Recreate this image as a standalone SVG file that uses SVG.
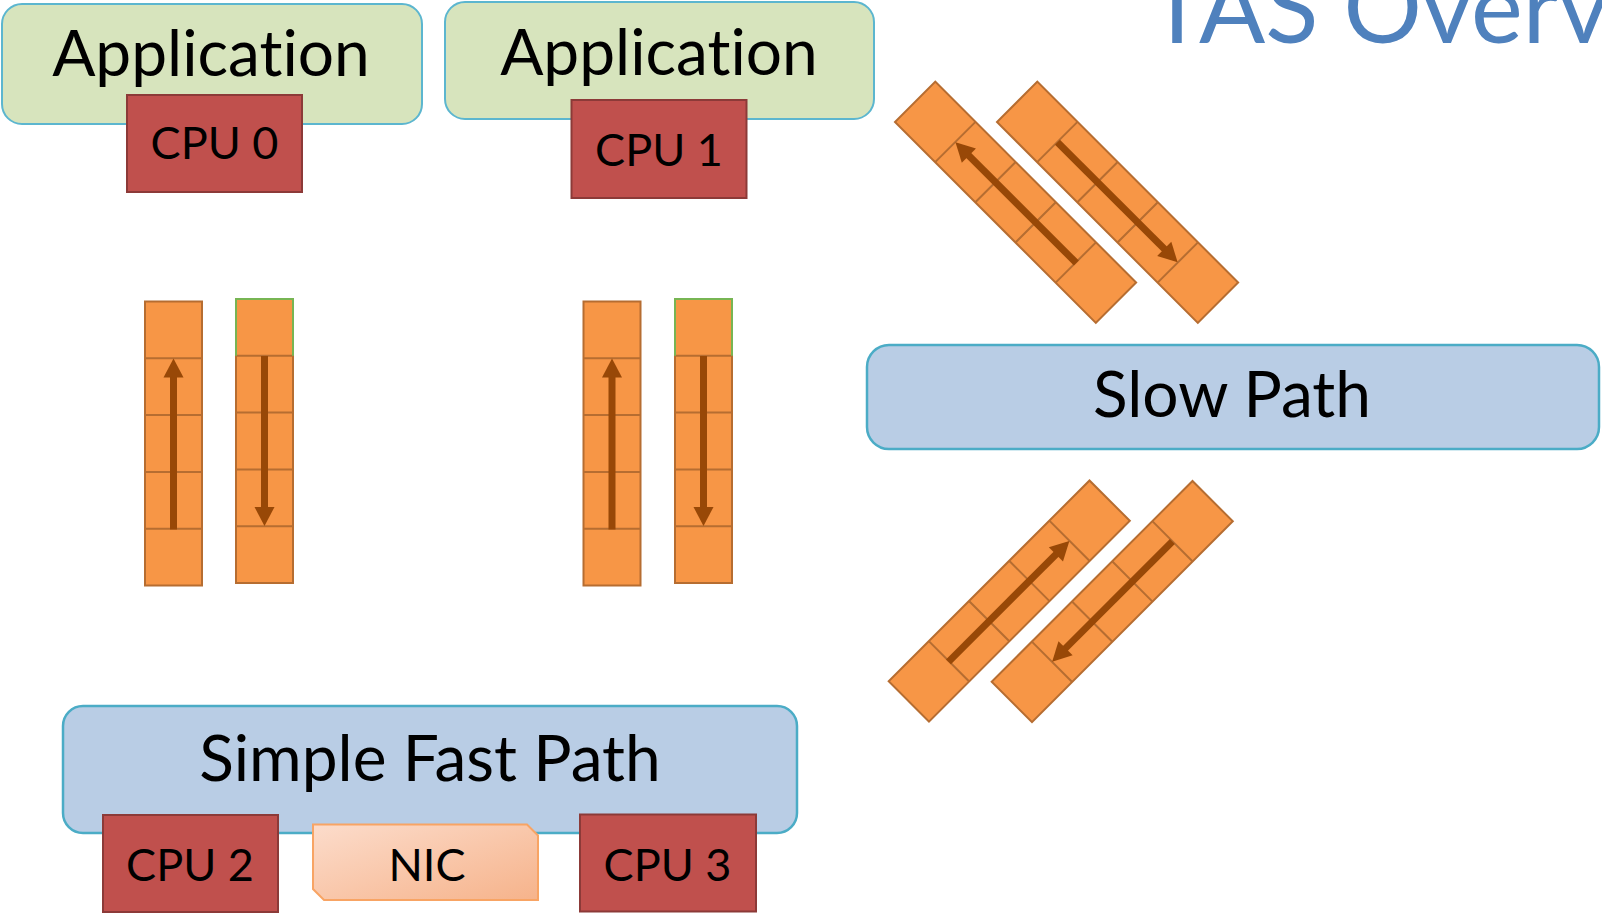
<svg xmlns="http://www.w3.org/2000/svg" xmlns:xlink="http://www.w3.org/1999/xlink" width="1602" height="915" viewBox="0 0 1602 915">
  <style>
    .app { fill: #d7e4bd; stroke: #5cb6cf; stroke-width: 2; }
    .cpu { fill: #c0504d; stroke: #8c3a38; stroke-width: 2; }
    .path { fill: #b9cde5; stroke: #4bacc6; stroke-width: 2.5; }
    .cell { fill: #f79646; stroke: #b66d31; stroke-width: 2; }
    .div { stroke: #b66d31; stroke-width: 2; }
    .edge { fill: none; stroke: #77b553; stroke-width: 2; }
    .arrow { fill: #984807; }
    text { font-variant-ligatures: none; font-feature-settings: "liga" 0, "dlig" 0; }
    .lbl { font-family: Lato, "Liberation Sans", sans-serif; fill: #000; text-anchor: middle; }
    .big { font-size: 64px; }
    .small { font-size: 45px; }
    .title { font-family: Lato, "Liberation Sans", sans-serif; font-weight: 400; font-size: 98px; fill: #4f81bd; }
  </style>
  <defs>
    <!-- a five-slot queue, 57 wide and 284 long, drawn upright -->
    <g id="queue">
      <rect class="cell" x="0" y="0" width="57" height="284"/>
      <path class="div" d="M0 56.8H57M0 113.6H57M0 170.4H57M0 227.2H57"/>
    </g>
    <!-- direction of travel along a queue -->
    <g id="arrowUp">
      <rect class="arrow" x="25" y="74" width="7" height="154"/>
      <polygon class="arrow" points="18.5,76 38.5,76 28.5,57"/>
    </g>
    <g id="arrowDown">
      <rect class="arrow" x="25" y="57" width="7" height="153"/>
      <polygon class="arrow" points="18.5,208 38.5,208 28.5,227"/>
    </g>
    <linearGradient id="nicFill" x1="0" y1="0" x2="1" y2="1">
      <stop offset="0" stop-color="#fcdccb"/>
      <stop offset="1" stop-color="#f6b38b"/>
    </linearGradient>
  </defs>

  <text class="title" x="1148" y="43">TAS Overv</text>

  <!-- applications -->
  <g id="app0">
    <rect class="app" x="2" y="4" width="420" height="120" rx="20"/>
    <text class="lbl big" x="211" y="76">Application</text>
  </g>
  <g id="cpu0">
    <rect class="cpu" x="127" y="95" width="175" height="97"/>
    <text class="lbl small" x="214.5" y="159">CPU 0</text>
  </g>
  <g id="app1">
    <rect class="app" x="445" y="2" width="429" height="117" rx="20"/>
    <text class="lbl big" x="659" y="75">Application</text>
  </g>
  <g id="cpu1">
    <rect class="cpu" x="571.5" y="100" width="175" height="98"/>
    <text class="lbl small" x="659" y="166">CPU 1</text>
  </g>

  <!-- slow path -->
  <g id="slowpath">
    <rect class="path" x="867" y="345" width="732" height="104" rx="22"/>
    <text class="lbl big" x="1232" y="417">Slow Path</text>
  </g>

  <!-- fast path with its cores and the NIC -->
  <g id="fastpath">
    <rect class="path" x="63" y="706" width="734" height="127" rx="20"/>
    <text class="lbl big" x="430" y="781">Simple Fast Path</text>
  </g>
  <g id="cpu2">
    <rect class="cpu" x="103" y="815" width="175" height="97"/>
    <text class="lbl small" x="190" y="881">CPU 2</text>
  </g>
  <g id="nic">
    <path d="M313 824.5H527L538 835.5V900H324L313 889Z" fill="url(#nicFill)" stroke="#f8a464" stroke-width="2"/>
    <text class="lbl small" x="427" y="881">NIC</text>
  </g>
  <g id="cpu3">
    <rect class="cpu" x="580" y="814.5" width="176" height="97"/>
    <text class="lbl small" x="667.5" y="881">CPU 3</text>
  </g>

  <!-- queues between applications and the fast path -->
  <g id="q0tx" transform="translate(145,301.5)"><use href="#queue"/></g>
  <g id="q0rx" transform="translate(236,299)"><use href="#queue"/><path class="edge" d="M0 56.8V0H57V56.8"/></g>
  <g id="q1tx" transform="translate(583.5,301.5)"><use href="#queue"/></g>
  <g id="q1rx" transform="translate(675,299)"><use href="#queue"/><path class="edge" d="M0 56.8V0H57V56.8"/></g>

  <!-- queues between applications and the slow path -->
  <g id="qs0" transform="translate(895,122) rotate(-45)"><use href="#queue"/></g>
  <g id="qs1" transform="translate(997,122) rotate(-45)"><use href="#queue"/></g>

  <!-- queues between the slow path and the fast path -->
  <g id="qf0" transform="translate(1089.5,480.5) rotate(45)"><use href="#queue"/></g>
  <g id="qf1" transform="translate(1192.5,481) rotate(45)"><use href="#queue"/></g>

  <g id="connectors">
    <use href="#arrowUp" transform="translate(145,301.5)"/>
    <use href="#arrowDown" transform="translate(236,299)"/>
    <use href="#arrowUp" transform="translate(583.5,301.5)"/>
    <use href="#arrowDown" transform="translate(675,299)"/>
    <use href="#arrowUp" transform="translate(895,122) rotate(-45)"/>
    <use href="#arrowDown" transform="translate(997,122) rotate(-45)"/>
    <use href="#arrowUp" transform="translate(1089.5,480.5) rotate(45)"/>
    <use href="#arrowDown" transform="translate(1192.5,481) rotate(45)"/>
  </g>
</svg>
